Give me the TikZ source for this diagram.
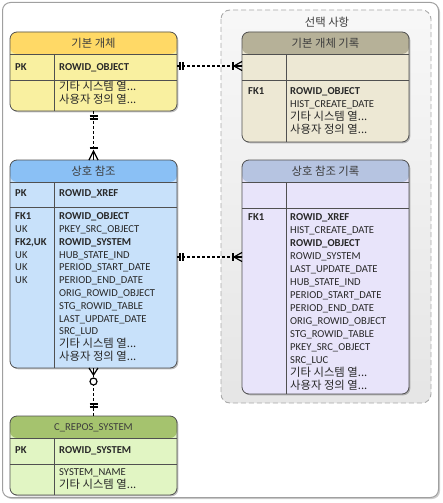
\documentclass[tikz,border=0pt]{standalone}
\usepackage{fontspec}
\setmainfont{Carlito}
\newfontfamily\kr[Scale=1.07]{Noto Sans CJK KR}
\usetikzlibrary{calc,shadows}
\definecolor{hdrY}{RGB}{255,217,102}
\definecolor{bodyY}{RGB}{249,240,160}
\definecolor{hdrO}{RGB}{182,177,152}
\definecolor{bodyO}{RGB}{237,232,212}
\definecolor{hdrB}{RGB}{138,192,245}
\definecolor{bodyB}{RGB}{200,225,250}
\definecolor{hdrL}{RGB}{182,196,225}
\definecolor{bodyL}{RGB}{232,228,250}
\definecolor{hdrG}{RGB}{165,195,110}
\definecolor{bodyG}{RGB}{225,245,195}
\definecolor{edge}{RGB}{80,80,80}
\definecolor{txt}{RGB}{40,40,40}
\definecolor{htxt}{RGB}{60,60,60}
\definecolor{frame}{RGB}{160,160,160}
\definecolor{optedge}{RGB}{170,170,170}
\newcommand{\othcols}{{\kr 기타 시스템 열...}}
\newcommand{\usrcols}{{\kr 사용자 정의 열...}}
\tikzset{
  entity/.style n args={3}{draw=edge, line width=0.8pt, rounded corners=7pt, fill=#2,
    minimum width=167pt, minimum height=#3, inner sep=0pt, outer sep=0pt, anchor=north west,
    drop shadow={shadow xshift=1.3pt, shadow yshift=-1.3pt, opacity=0.25, fill=black},
    path picture={\fill[#1] (path picture bounding box.north west) rectangle ([yshift=-22pt]path picture bounding box.north east);}},
  sep/.style={draw=edge, line width=0.8pt},
  fld/.style={anchor=base west, inner sep=0pt, text=txt, font=\fontsize{10.6}{12.8}\selectfont},
  hdr/.style={inner sep=0pt, text=htxt, font=\fontsize{10.6}{12.8}\selectfont},
  conn/.style={draw=black, line width=1.2pt, dash pattern=on 3pt off 2pt},
  mk/.style={draw=black, line width=1.2pt},
}
\newcommand{\erlines}[2]{%
  \draw[sep] ([yshift=-22pt]#1.north west) -- ([yshift=-22pt]#1.north east);
  \draw[sep] ([yshift=-#2pt]#1.north west) -- ([yshift=-#2pt]#1.north east);
  \draw[sep] ([xshift=44pt,yshift=-22pt]#1.north west) -- ([xshift=44pt]#1.south west);
}
\begin{document}
\begin{tikzpicture}[x=1pt,y=-1pt]
\useasboundingbox (0,0) rectangle (443,503);
% outer frame
\draw[draw=frame, line width=1pt, fill=white, rounded corners=8pt,
  drop shadow={shadow xshift=1.5pt, shadow yshift=-1.5pt, opacity=0.2, fill=black}]
  (2.5,2.5) rectangle (438.5,497.5);
% optional region
\path[draw=optedge, line width=0.9pt, dash pattern=on 5pt off 3pt, rounded corners=9pt,
  top color=black!3, bottom color=black!10] (221,10) rectangle (431,403);
\node[hdr] (opt) at (327,22) {\kr 선택 사항};

% entities
\node[entity={hdrY}{bodyY}{79pt}] (base) at (10,32) {};
\node[entity={hdrO}{bodyO}{110pt}] (basehist) at (242,32) {};
\node[entity={hdrB}{bodyB}{208pt}] (xref) at (10,160) {};
\node[entity={hdrL}{bodyL}{234pt}] (xrefhist) at (242,160) {};
\node[entity={hdrG}{bodyG}{79pt}] (sys) at (10,416) {};
\erlines{base}{48}
\erlines{basehist}{48}
\erlines{xref}{47}
\erlines{xrefhist}{48}
\erlines{sys}{48}

% headers
\node[hdr] (base-h) at (93.5,43) {\kr 기본 개체};
\node[hdr] (basehist-h) at (325.5,43) {\kr 기본 개체 기록};
\node[hdr] (xref-h) at (93.5,171) {\kr 상호 참조};
\node[hdr] (xrefhist-h) at (325.5,171) {\kr 상호 참조 기록};
\node[hdr, anchor=base] (sys-h) at (93.5,430.4) {C\_REPOS\_SYSTEM};

% base fields
\node[fld] (base-pk) at (15,70.6) {\textbf{PK}};
\node[fld] (base-pkn) at (59,70.6) {\textbf{ROWID\_OBJECT}};
\foreach \t [count=\i from 0] in {\othcols,\usrcols}
  \node[fld] (base-r\i) at (59,{90.8+\i*12.8}) {\t};

% base history fields
\node[fld] (basehist-fk) at (248,94.4) {\textbf{FK1}};
\foreach \t [count=\i from 0] in {\textbf{ROWID\_OBJECT},HIST\_CREATE\_DATE,\othcols,\usrcols}
  \node[fld] (basehist-r\i) at (290,{94.4+\i*13}) {\t};

% xref fields
\node[fld] (xref-pk) at (15,196.6) {\textbf{PK}};
\node[fld] (xref-pkn) at (59,196.6) {\textbf{ROWID\_XREF}};
\foreach \t [count=\i from 0] in {\textbf{FK1},UK,{\textbf{FK2,UK}},UK,UK,UK}
  \node[fld] (xref-l\i) at (15,{219.6+\i*12.8}) {\t};
\foreach \t [count=\i from 0] in {\textbf{ROWID\_OBJECT},PKEY\_SRC\_OBJECT,\textbf{ROWID\_SYSTEM},HUB\_STATE\_IND,PERIOD\_START\_DATE,PERIOD\_END\_DATE,ORIG\_ROWID\_OBJECT,STG\_ROWID\_TABLE,LAST\_UPDATE\_DATE,SRC\_LUD,\othcols,\usrcols}
  \node[fld] (xref-r\i) at (59,{219.6+\i*12.8}) {\t};

% xref history fields
\node[fld] (xrefhist-fk) at (248,220.6) {\textbf{FK1}};
\foreach \t [count=\i from 0] in {\textbf{ROWID\_XREF},HIST\_CREATE\_DATE,\textbf{ROWID\_OBJECT},ROWID\_SYSTEM,LAST\_UPDATE\_DATE,HUB\_STATE\_IND,PERIOD\_START\_DATE,PERIOD\_END\_DATE,ORIG\_ROWID\_OBJECT,STG\_ROWID\_TABLE,PKEY\_SRC\_OBJECT,SRC\_LUC,\othcols,\usrcols}
  \node[fld] (xrefhist-r\i) at (290,{220.6+\i*13}) {\t};

% system fields
\node[fld] (sys-pk) at (15,453.6) {\textbf{PK}};
\node[fld] (sys-pkn) at (59,453.6) {\textbf{ROWID\_SYSTEM}};
\node[fld] (sys-r0) at (59,475.6) {SYSTEM\_NAME};
\node[fld] (sys-r1) at (59,488.6) {\othcols};

% connector anchors
\coordinate (c1a) at ($(base.north east)+(0,34)$);
\coordinate (c1b) at ($(basehist.north west)+(0,34)$);
\coordinate (c2a) at ($(xref.north east)+(0,97)$);
\coordinate (c2b) at ($(xrefhist.north west)+(0,97)$);

% base -> base history
\draw[conn] (c1a) -- (c1b);
\draw[mk] ($(c1a)+(3,-4)$) -- ($(c1a)+(3,4)$) ($(c1a)+(6,-4)$) -- ($(c1a)+(6,4)$);
\draw[mk] ($(c1b)+(-9,-4)$) -- ($(c1b)+(-9,4)$);
\draw[mk] ($(c1b)+(0,-4.5)$) -- ($(c1b)+(-8,0)$) -- ($(c1b)+(0,4.5)$);
\draw[mk] ($(c1b)+(-8,0)$) -- (c1b);

% xref -> xref history
\draw[conn] (c2a) -- (c2b);
\draw[mk] ($(c2a)+(3,-4)$) -- ($(c2a)+(3,4)$) ($(c2a)+(6,-4)$) -- ($(c2a)+(6,4)$);
\draw[mk] ($(c2b)+(-9,-4)$) -- ($(c2b)+(-9,4)$);
\draw[mk] ($(c2b)+(0,-4.5)$) -- ($(c2b)+(-8,0)$) -- ($(c2b)+(0,4.5)$);
\draw[mk] ($(c2b)+(-8,0)$) -- (c2b);

% base -> xref
\draw[conn] (base.south) -- (xref.north);
\draw[mk] ($(base.south)+(-4,5)$) -- ($(base.south)+(4,5)$) ($(base.south)+(-4,8)$) -- ($(base.south)+(4,8)$);
\draw[mk] ($(xref.north)+(-4,-12)$) -- ($(xref.north)+(4,-12)$);
\draw[mk] ($(xref.north)+(-4.5,0)$) -- ($(xref.north)+(0,-9)$) -- ($(xref.north)+(4.5,0)$);
\draw[mk] ($(xref.north)+(0,-9)$) -- (xref.north);

% xref -> system
\draw[conn] (xref.south) -- (sys.north);
\draw[mk] ($(xref.south)+(-4.5,0)$) -- ($(xref.south)+(0,7)$) -- ($(xref.south)+(4.5,0)$);
\draw[mk] (xref.south) -- ($(xref.south)+(0,9)$);
\draw[mk, fill=white] ($(xref.south)+(0,13.5)$) circle (3.5pt);
\draw[mk] ($(sys.north)+(-4,-12)$) -- ($(sys.north)+(4,-12)$) ($(sys.north)+(-4,-9)$) -- ($(sys.north)+(4,-9)$);
\end{tikzpicture}
\end{document}
